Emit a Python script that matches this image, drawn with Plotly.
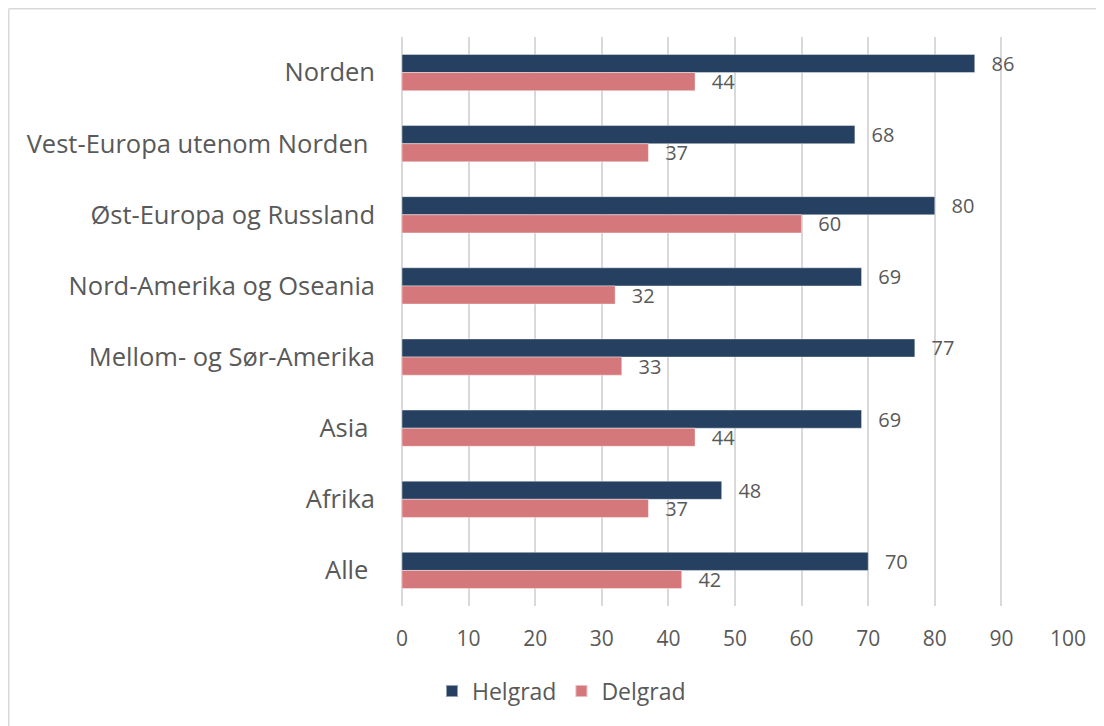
import plotly.graph_objects as go

categories = [
    "Norden",
    "Vest-Europa utenom Norden\u00a0",
    "Øst-Europa og Russland",
    "Nord-Amerika og Oseania",
    "Mellom- og Sør-Amerika",
    "Asia\u00a0",
    "Afrika",
    "Alle\u00a0",
]
helgrad = [86, 68, 80, 69, 77, 69, 48, 70]
delgrad = [44, 37, 60, 32, 33, 44, 37, 42]
x_ticks = [0, 10, 20, 30, 40, 50, 60, 70, 80, 90, 100]

# page body has an 8px margin, so the figure is sized/offset to compensate
OFF = 8
W, H = 1104 - OFF, 726 - OFF
L, R, T, B = 402 - OFF, 36, 37 - OFF, 120
pw, ph = W - L - R, H - T - B

FONT = "Open Sans"
GRAY = "#595959"
GRID = "#D9D9D9"
NAVY = "#264061"
SALMON = "#D5787B"

LABEL_PAD = "\u00a0\u00a0\u2009"

fig = go.Figure()
fig.add_trace(go.Bar(
    name="Helgrad", y=categories, x=helgrad, orientation="h",
    marker=dict(color=NAVY, line=dict(color="rgba(255,255,255,0.5)", width=0.8)),
    text=helgrad, texttemplate=LABEL_PAD + "%{x}", textposition="outside",
    textfont=dict(family=FONT, size=20, color=GRAY),
    constraintext="none", cliponaxis=False,
))
fig.add_trace(go.Bar(
    name="Delgrad", y=categories, x=delgrad, orientation="h",
    marker=dict(color=SALMON, line=dict(color="rgba(255,255,255,0.5)", width=0.8)),
    text=delgrad, texttemplate=LABEL_PAD + "%{x}", textposition="outside",
    textfont=dict(family=FONT, size=20, color=GRAY),
    constraintext="none", cliponaxis=False,
))

# outer chart border (only top and left edges are visible)
bx = (0.75 - L) / pw
by = (H - B - 0.75) / ph
fig.add_shape(type="line", xref="paper", yref="paper",
              x0=bx, x1=1.3, y0=by, y1=by,
              line=dict(color=GRID, width=1.5))
fig.add_shape(type="line", xref="paper", yref="paper",
              x0=bx, x1=bx, y0=by, y1=-0.4,
              line=dict(color=GRID, width=1.5))

fig.update_layout(
    width=W, height=H,
    margin=dict(l=L, r=R, t=T, b=B, autoexpand=False),
    paper_bgcolor="white", plot_bgcolor="white",
    barmode="group", bargap=0.49, bargroupgap=0,
    font=dict(family=FONT, color=GRAY),
    showlegend=True,
    legend=dict(orientation="h", x=(432 - 402) / pw, xanchor="left",
                y=(606 - 691) / ph, yanchor="middle",
                font=dict(family=FONT, size=23, color=GRAY),
                traceorder="normal", itemsizing="constant"),
    xaxis=dict(range=[0, 100], tickvals=x_ticks, showgrid=True, gridcolor=GRID,
               gridwidth=1.5, zeroline=True, zerolinecolor=GRID, zerolinewidth=1.5,
               showline=False, ticks="", ticklabelstandoff=18,
               tickfont=dict(family=FONT, size=21, color=GRAY)),
    yaxis=dict(categoryorder="array", categoryarray=categories, autorange="reversed",
               showgrid=False, zeroline=False, showline=False, ticks="",
               ticklabelstandoff=26,
               tickfont=dict(family=FONT, size=25.5, color=GRAY)),
)

fig.write_html("out.html")
